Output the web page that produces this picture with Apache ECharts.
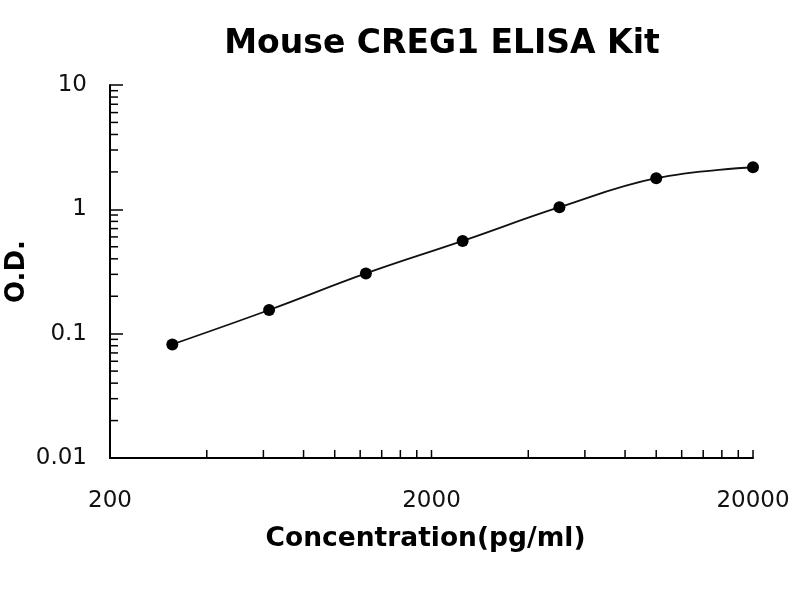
<!DOCTYPE html>
<html>
<head>
<meta charset="utf-8">
<script src="https://cdn.jsdelivr.net/npm/echarts@6/dist/echarts.min.js"></script>
<style>
  html, body { margin: 0; padding: 0; background: #fff; }
  #chart { width: 800px; height: 600px; }
</style>
</head>
<body>
<div id="chart"></div>
<script>
// standard curve points
const concentration = [312.5, 625, 1250, 2500, 5000, 10000, 20000];
const od = [0.082, 0.155, 0.305, 0.557, 1.04, 1.78, 2.18];

// axis labels / ticks
const xLabels = [200, 2000, 20000];
const yLabels = [0.01, 0.1, 1, 10];
const xMinorTicks = [400, 600, 800, 1000, 1200, 1400, 1600, 1800, 2000,
  4000, 6000, 8000, 10000, 12000, 14000, 16000, 18000, 20000];
const yMinorTicks = [0.02, 0.03, 0.04, 0.05, 0.06, 0.07, 0.08, 0.09,
  0.2, 0.3, 0.4, 0.5, 0.6, 0.7, 0.8, 0.9,
  2, 3, 4, 5, 6, 7, 8, 9];

const chart = echarts.init(document.getElementById('chart'));

// draws a short tick for each value using the axis scales
function tickSeries(values, dir, len) {
  return {
    type: 'custom',
    silent: true,
    clip: false,
    z: 5,
    data: values.map(v => dir === 'x' ? [v, 0.01] : [200, v]),
    renderItem: function (params, api) {
      const p = api.coord([api.value(0), api.value(1)]);
      const shape = dir === 'x'
        ? { x1: p[0], y1: p[1], x2: p[0], y2: p[1] - len }
        : { x1: p[0], y1: p[1], x2: p[0] + len, y2: p[1] };
      return { type: 'line', shape: shape, style: { stroke: '#000', lineWidth: 1.5 } };
    }
  };
}

const labelFont = '"DejaVu Sans", sans-serif';
const boldFont = '"DejaVu Sans", "Liberation Sans", sans-serif';

chart.setOption({
  backgroundColor: '#fff',
  animation: false,
  title: {
    text: 'Mouse CREG1 ELISA Kit',
    left: 437,
    top: 23,
    textAlign: 'center',
    textStyle: { fontFamily: boldFont, fontSize: 33, fontWeight: 'bold', color: '#000' }
  },
  grid: { left: 110, right: 47, top: 85, bottom: 142, containLabel: false, outerBoundsMode: 'none' },
  xAxis: {
    type: 'log',
    logBase: 10,
    min: 200,
    max: 20000,
    name: 'Concentration(pg/ml)',
    nameLocation: 'middle',
    nameGap: 68,
    nameMoveOverlap: false,
    nameTextStyle: { fontFamily: boldFont, fontSize: 26.5, fontWeight: 'bold', color: '#000', padding: [0, 12, 0, 0] },
    axisLine: { lineStyle: { color: '#000', width: 2 } },
    axisTick: { show: false },
    minorTick: { show: false },
    splitLine: { show: false },
    axisLabel: {
      customValues: xLabels,
      margin: 32,
      fontFamily: labelFont,
      fontSize: 23,
      color: '#111',
      formatter: v => String(v)
    }
  },
  yAxis: {
    type: 'log',
    logBase: 10,
    min: 0.01,
    max: 10,
    name: 'O.D.',
    nameLocation: 'middle',
    nameGap: 80,
    nameMoveOverlap: false,
    nameTextStyle: { fontFamily: boldFont, fontSize: 26, fontWeight: 'bold', color: '#000' },
    axisLine: { show: true, lineStyle: { color: '#000', width: 2 } },
    axisTick: { show: true, inside: true, length: 13, customValues: yLabels, lineStyle: { color: '#000', width: 1.5 } },
    minorTick: { show: false },
    splitLine: { show: false },
    axisLabel: {
      customValues: yLabels,
      margin: 23,
      fontFamily: labelFont,
      fontSize: 23,
      color: '#111',
      formatter: v => String(v)
    }
  },
  series: [
    {
      type: 'line',
      data: concentration.map((c, i) => [c, od[i]]),
      smooth: 0.4,
      symbol: 'circle',
      symbolSize: 12,
      itemStyle: { color: '#000' },
      lineStyle: { color: '#111', width: 1.8 },
      z: 10
    },
    tickSeries(xMinorTicks, 'x', 8),
    tickSeries(yMinorTicks, 'y', 8)
  ]
});
</script>
</body>
</html>
